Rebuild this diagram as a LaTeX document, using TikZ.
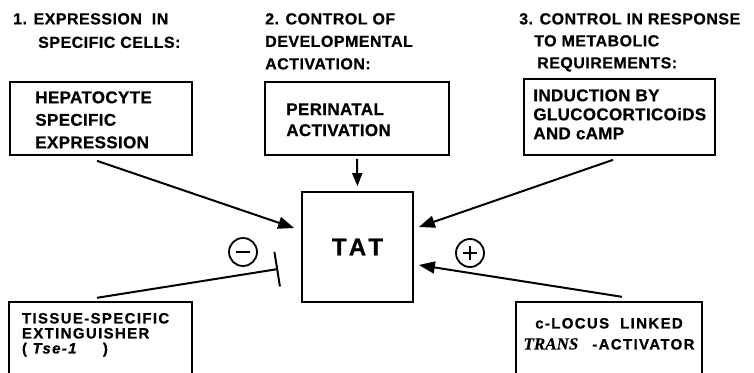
\documentclass[tikz,border=0pt]{standalone}
\usepackage{fontspec}
\setmainfont{Liberation Sans}
\newfontfamily\LabFont{Liberation Sans}[LetterSpace=2,FakeBold=0.6]
\newfontfamily\HeadFont{Liberation Sans}[LetterSpace=3,FakeBold=0.6]
\newfontfamily\WideFont{Liberation Sans}[LetterSpace=9,FakeBold=0.6]
\newfontfamily\TatFont{Liberation Sans}[LetterSpace=17,FakeBold=0.6]
\newfontfamily\TransFont{Liberation Serif}[FakeBold=0.4]
\usetikzlibrary{arrows.meta,calc}

\tikzset{
  frame/.style={draw,line width=1.7pt,inner sep=0pt},
  lab/.style={inner sep=0pt,anchor=north west,align=left,
    font=\LabFont\bfseries\fontsize{17}{#1}\selectfont},
  head/.style={lab,font=\HeadFont\bfseries\fontsize{16}{#1}\selectfont},
  wide/.style={lab,font=\WideFont\bfseries\fontsize{15}{#1}\selectfont},
  arr/.style={line width=2pt,-{Triangle[length=16pt,width=12pt]}},
  inh/.style={line width=2pt,-{Bar[width=35pt,line width=2pt]}},
  sign/.style={circle,draw,line width=1.8pt,minimum size=28pt,inner sep=0pt},
  minus/.style={sign,path picture={
    \draw[line width=2pt] ([xshift=-7pt]path picture bounding box.center)
      -- ([xshift=7pt]path picture bounding box.center);}},
  plus/.style={sign,path picture={
    \draw[line width=2pt] ([xshift=-7pt]path picture bounding box.center)
      -- ([xshift=7pt]path picture bounding box.center);
    \draw[line width=2pt] ([yshift=-7pt]path picture bounding box.center)
      -- ([yshift=7pt]path picture bounding box.center);}}
}

\begin{document}
\begin{tikzpicture}[x=1pt,y=-1pt]
\useasboundingbox (0,0) rectangle (754,372);

% headings
\node[head=23.5] (head1) at (13,13) {1. EXPRESSION~ IN\\\hspace*{25pt}SPECIFIC CELLS:};
\node[head=22.5] (head2) at (265,13) {2. CONTROL OF\\DEVELOPMENTAL\\ACTIVATION:};
\node[head=22] (head3) at (519,13) {3. CONTROL IN RESPONSE\\\hspace*{15pt}TO METABOLIC\\\hspace*{18pt}REQUIREMENTS:};

% boxes
\node[frame,minimum width=182pt,minimum height=73pt] (hep) at (101,118.5) {};
\node[frame,minimum width=184pt,minimum height=73pt] (peri) at (357,118.5) {};
\node[frame,minimum width=191pt,minimum height=76pt] (ind) at (619.5,117) {};
\node[frame,minimum width=111pt,minimum height=110pt,
  font=\TatFont\bfseries\fontsize{24}{28}\selectfont] (tat) at (357.5,247) {TAT};
\node[inner sep=0pt,minimum width=183pt,minimum height=72pt] (tis) at (100.5,338) {};
\node[inner sep=0pt,minimum width=186pt,minimum height=72pt] (clo) at (609,338) {};
\draw[line width=1.7pt] (tis.south west) |- (tis.north east) -- (tis.south east);
\draw[line width=1.7pt] (clo.south west) |- (clo.north east) -- (clo.south east);

\node[lab=22.5] (hept) at ($(hep.north west)+(26,10)$) {HEPATOCYTE\\SPECIFIC\\EXPRESSION};
\node[lab=21] (perit) at ($(peri.north west)+(22,22)$) {PERINATAL\\ACTIVATION};
\node[lab=19] (indt) at ($(ind.north west)+(10,11)$) {INDUCTION BY\\GLUCOCORTICOiDS\\AND cAMP};
\node[wide=15] (tist) at ($(tis.north west)+(13,11)$) {TISSUE-SPECIFIC\\EXTINGUISHER\\(\ \textit{Tse-1}\hspace{25pt})};
\node[wide=21,anchor=north,align=center] (clot) at ($(clo.north)+(0,16)$)
  {c-LOCUS~ LINKED\\{\TransFont\bfseries\itshape\fontsize{17}{21}\selectfont TRANS}\hspace{14pt}-ACTIVATOR};

% connectors
\draw[arr] ($(hep.south)+(-4,5)$) -- ($(tat.west)+(-7,-19)$);
\draw[line width=2pt,-{Triangle[length=13pt,width=10pt]},shorten <=3pt,shorten >=5pt] (peri.south) -- (tat.north);
\draw[arr] ($(ind.south)+(-6.5,4)$) -- ($(tat.east)+(5,-20)$);
\draw[arr] ($(clo.north)+(13,-5)$) -- ($(tat.east)+(5,18)$);
\draw[inh] ($(tis.north)+(-3.5,-4)$) -- ($(tat.west)+(-23,22)$);

\node[minus] (neg) at (243,252) {};
\node[plus] (pos) at (470,253) {};

\end{tikzpicture}
\end{document}
